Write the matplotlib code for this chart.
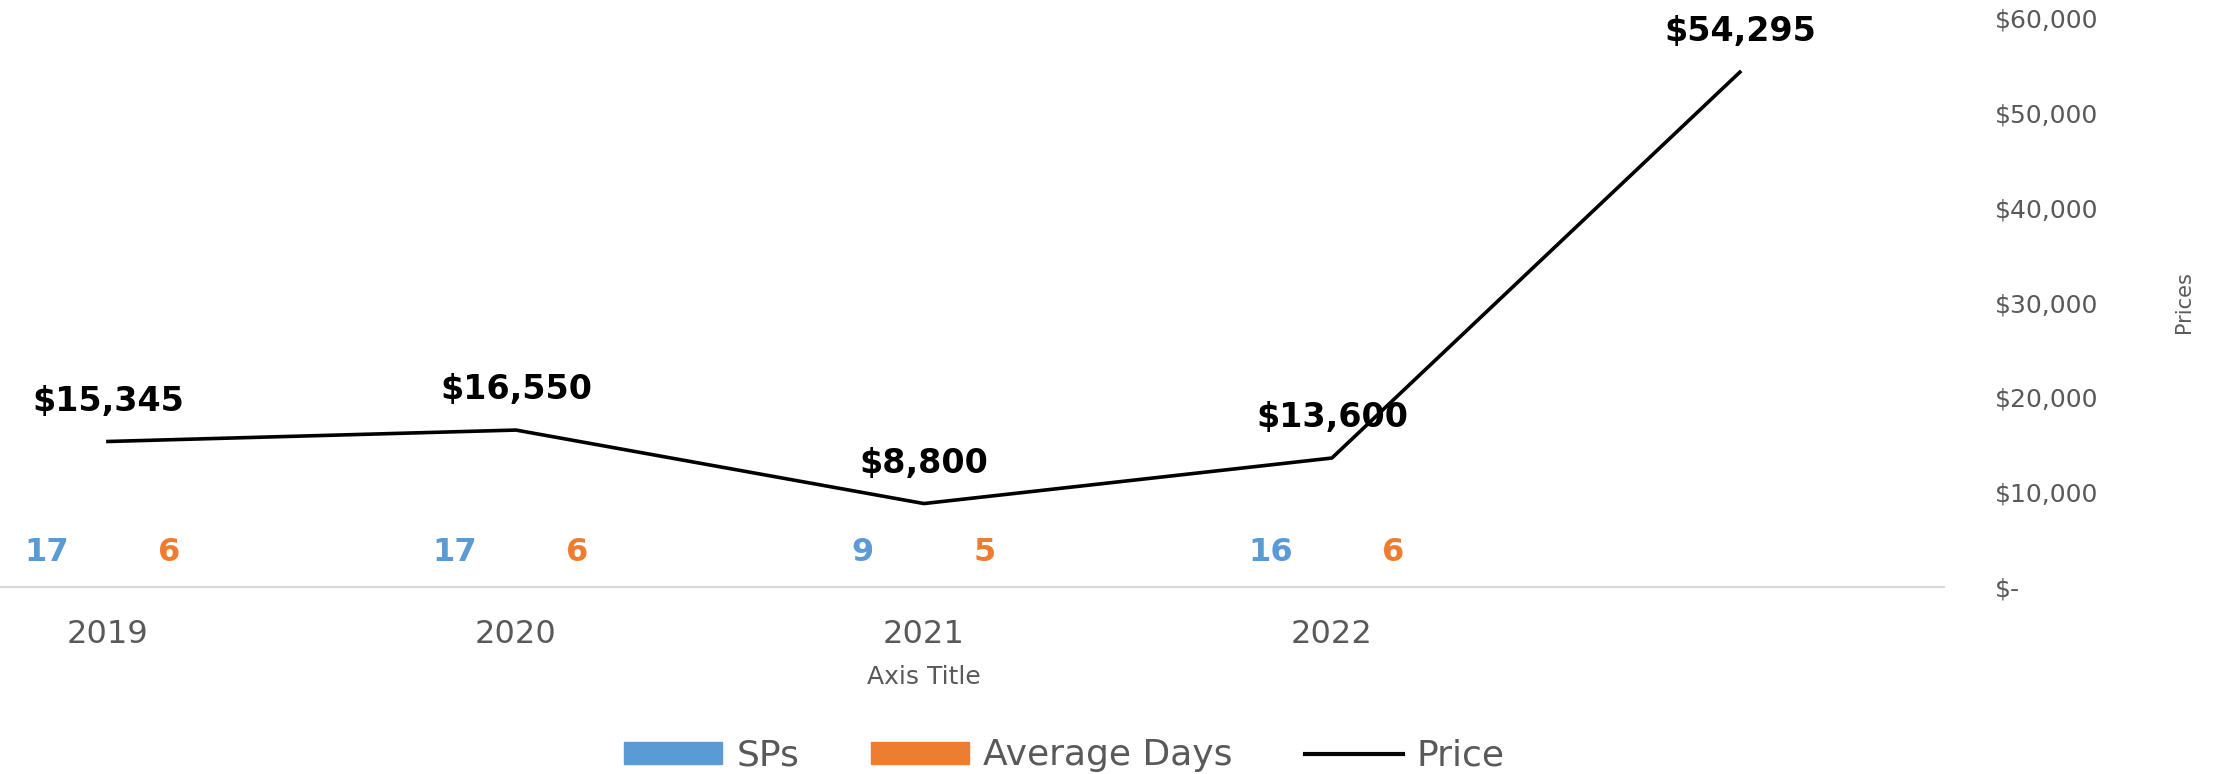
import numpy as np
import matplotlib
matplotlib.use("Agg")
import matplotlib.pyplot as plt
from matplotlib.lines import Line2D
from matplotlib.patches import Patch

# values; the fifth category has no label
years = ["2019", "2020", "2021", "2022", ""]
sps = [17, 17, 9, 16, np.nan]
average_days = [6, 6, 5, 6, np.nan]
price = [15345, 16550, 8800, 13600, 54295]
price_ticks = [0, 10000, 20000, 30000, 40000, 50000, 60000]

BLUE, ORANGE, TEXT, RULE = "#5B9BD5", "#ED7D31", "#595959", "#D9D9D9"


def money(value):
    return "$-" if value == 0 else f"${value:,.0f}"


fig = plt.figure(figsize=(22.18, 7.74), dpi=100)
# the source image is cropped on the left, so the plot starts off-canvas
ax = fig.add_axes([-0.0433, 0.2416, 0.9197, 0.7351])
ax2 = ax.twinx()

positions = np.arange(len(years))
width = 0.3
for offset, values, colour in ((-width/2, sps, BLUE),
                               (+width/2, average_days, ORANGE)):
    ax.bar(positions+offset, values, width, color=colour)
    for xpos, value in zip(positions+offset, values):
        if np.isnan(value):
            continue
        ax.annotate(f"{value:.0f}", (xpos, value), xytext=(0, 25),
                    textcoords="offset points", ha="center", va="center",
                    color=colour, fontsize=23, fontweight="bold")
ax.set_ylim(0, 60000)
ax.set_yticks([])
ax.set_xlim(-0.5, len(years)-0.5)
ax.set_xticks(positions, years)
ax.tick_params(axis="x", length=0, pad=23, labelsize=23, labelcolor=TEXT)
ax.set_xlabel("Axis Title", fontsize=18, color=TEXT, labelpad=11)
for side in ("top", "left", "right"):
    ax.spines[side].set_visible(False)
ax.spines["bottom"].set_color(RULE)
ax.spines["bottom"].set_linewidth(1.5)

ax2.plot(positions, price, color="black", lw=2.6)
for xpos, value in zip(positions, price):
    ax2.annotate(money(value), (xpos, value), xytext=(0, 29),
                 textcoords="offset points", ha="center", va="center",
                 color="black", fontsize=24, fontweight="bold")
ax2.set_ylim(0, 60000)
ax2.set_yticks(price_ticks, [money(v) for v in price_ticks])
ax2.tick_params(axis="y", length=0, pad=37, labelsize=18, labelcolor=TEXT)
ax2.set_ylabel("Prices", fontsize=15, color=TEXT)
ax2.yaxis.set_label_coords(1.113, 0.5)
for side in ("top", "left", "right", "bottom"):
    ax2.spines[side].set_visible(False)

handles = [Patch(color=BLUE, label="SPs"),
           Patch(color=ORANGE, label="Average Days"),
           Line2D([], [], color="black", lw=3, label="Price")]
fig.legend(handles=handles, loc="center", bbox_to_anchor=(0.48, 0.024),
           ncol=3, frameon=False, fontsize=26, handlelength=2.7,
           handleheight=0.55, handletextpad=0.4, columnspacing=2.0,
           borderpad=0, labelcolor=TEXT)

fig.savefig("out.png", dpi=100)
plt.close(fig)
